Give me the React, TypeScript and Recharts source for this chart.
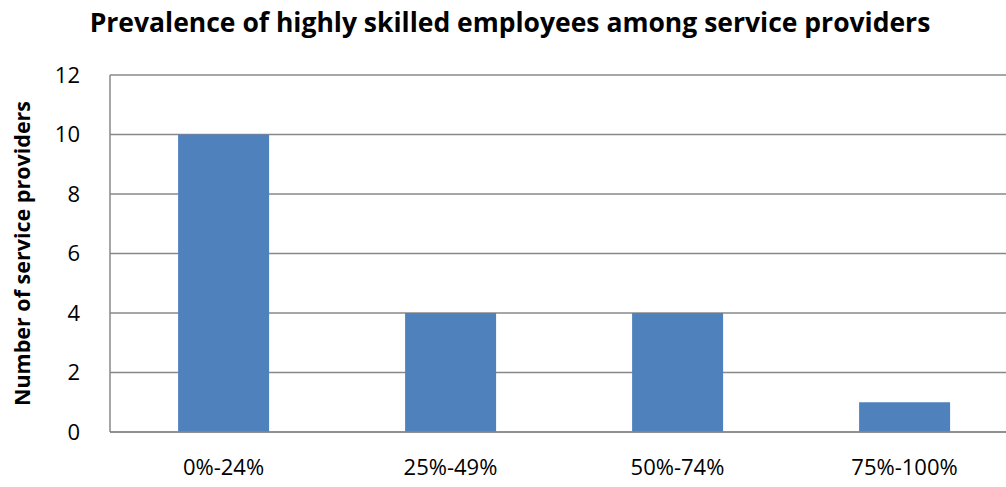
import { BarChart, Bar, XAxis, YAxis, CartesianGrid } from "recharts";

const categories = ["0%-24%", "25%-49%", "50%-74%", "75%-100%"];
const providers = [10, 4, 4, 1];
const yTicks = [0, 2, 4, 6, 8, 10, 12];

const data = categories.map((c, i) => ({ name: c, value: providers[i] }));

const font = "'Open Sans', sans-serif";

export default function App() {
  return (
    <div
      style={{
        position: "absolute",
        top: 0,
        left: 0,
        width: 1006,
        height: 487,
        overflow: "hidden",
        background: "#fff",
        fontFamily: font,
      }}
    >
      <div
        style={{
          position: "absolute",
          top: 4,
          left: 0,
          width: 1020,
          textAlign: "center",
          fontSize: 26.5,
          fontWeight: 700,
          color: "#000",
        }}
      >
        Prevalence of highly skilled employees among service providers
      </div>
      <BarChart
        width={1030}
        height={487}
        data={data}
        margin={{ top: 75, right: 12, bottom: 15, left: 0 }}
        barCategoryGap="30%"
      >
        <CartesianGrid vertical={false} stroke="#888" strokeWidth={1.5} />
        <XAxis
          dataKey="name"
          height={40}
          stroke="#888"
          strokeWidth={1.5}
          tickLine={false}
          tickMargin={21}
          tick={{ fontFamily: font, fontSize: 22, fill: "#000" }}
        />
        <YAxis
          width={110}
          domain={[0, 12]}
          ticks={yTicks}
          stroke="#888"
          strokeWidth={1.5}
          tickLine={false}
          tickMargin={24}
          tick={{ fontFamily: font, fontSize: 22, fill: "#000" }}
          label={{
            value: "Number of service providers",
            angle: -90,
            position: "insideLeft",
            offset: 22,
            style: { textAnchor: "middle", fontFamily: font, fontSize: 21.5, fontWeight: 700, fill: "#000" },
          }}
        />
        <Bar dataKey="value" fill="#4F81BD" isAnimationActive={false} />
      </BarChart>
    </div>
  );
}
